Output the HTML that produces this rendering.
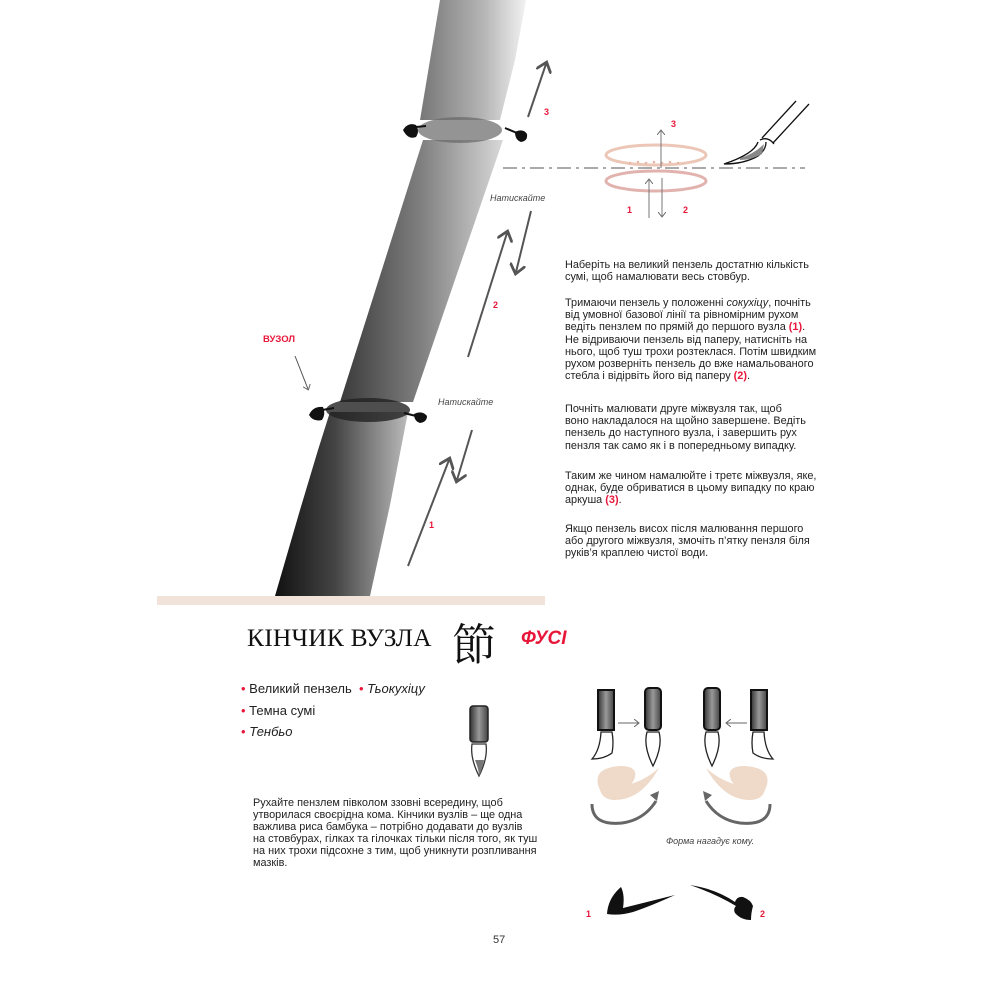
<!DOCTYPE html>
<html><head><meta charset="utf-8">
<style>
html,body{margin:0;padding:0;background:#fff;}
body{width:1000px;height:1000px;position:relative;overflow:hidden;font-family:"Liberation Sans","DejaVu Sans",sans-serif;color:#222;}
.t{position:absolute;font-size:10.9px;line-height:12.2px;white-space:nowrap;color:#222;}
.r{color:#e8173a;font-weight:bold;}
.lbl{position:absolute;font-size:9px;font-style:italic;color:#444;}
.num{position:absolute;font-size:9px;font-weight:bold;color:#e8173a;}
svg{position:absolute;left:0;top:0;}
</style></head><body>
<svg width="1000" height="1000" viewBox="0 0 1000 1000">
<defs>
<linearGradient id="g1" x1="0" y1="0" x2="1" y2="0">
<stop offset="0" stop-color="#111"/><stop offset="0.45" stop-color="#444"/><stop offset="1" stop-color="#bbb"/>
</linearGradient>
<linearGradient id="g2" x1="0" y1="0" x2="1" y2="0">
<stop offset="0" stop-color="#3a3a3a"/><stop offset="0.5" stop-color="#808080"/><stop offset="1" stop-color="#d8d8d8"/>
</linearGradient>
<linearGradient id="g3" x1="0" y1="0" x2="1" y2="0">
<stop offset="0" stop-color="#777"/><stop offset="0.6" stop-color="#b5b5b5"/><stop offset="1" stop-color="#f2f2f2"/>
</linearGradient>
<linearGradient id="bh" x1="0" y1="0" x2="1" y2="0">
<stop offset="0" stop-color="#333"/><stop offset="0.5" stop-color="#999"/><stop offset="1" stop-color="#444"/>
</linearGradient>
<marker id="ah" markerWidth="8" markerHeight="8" refX="4" refY="4" orient="auto"><path d="M0,0 L5,4 L0,8" fill="none" stroke="#555" stroke-width="1.4"/></marker>
<marker id="ah2" markerWidth="8" markerHeight="8" refX="4" refY="4" orient="auto"><path d="M0,0 L5,4 L0,8" fill="none" stroke="#666" stroke-width="1"/></marker>
</defs>
<rect x="157" y="596" width="388" height="9" fill="#f1e2da"/>
<!-- bamboo -->
<polygon points="275,596 370,596 390,505 408,412 330,412 318,450 300,510" fill="url(#g1)"/>
<polygon points="340,402 413,402 503,140 423,140" fill="url(#g2)"/>
<polygon points="440,0 526,0 515,60 500,120 420,120 430,60" fill="url(#g3)"/>
<ellipse cx="460" cy="130" rx="42" ry="13" fill="#666" opacity="0.7"/>
<ellipse cx="368" cy="410" rx="42" ry="12" fill="#222" opacity="0.8"/>
<path d="M403,130 q5,-8 13,-5 q4,6 0,12 q-8,3 -13,-7z" fill="#111"/>
<path d="M416,127 l10,-1" stroke="#111" stroke-width="2"/>
<path d="M505,128 l12,5" stroke="#111" stroke-width="2"/>
<path d="M515,132 q8,-4 12,2 q1,7 -6,8 q-6,-2 -6,-10z" fill="#111"/>
<path d="M309,415 q4,-9 14,-8 q3,7 -1,13 q-9,2 -13,-5z" fill="#111"/>
<path d="M322,410 l12,-2" stroke="#111" stroke-width="2"/>
<path d="M404,413 l12,3" stroke="#111" stroke-width="2"/>
<path d="M414,414 q8,-4 13,2 q0,6 -7,7 q-6,-2 -6,-9z" fill="#111"/>
<g stroke="#555" stroke-width="2" fill="none">
<line x1="408" y1="566" x2="449" y2="460" marker-end="url(#ah)"/>
<line x1="472" y1="430" x2="457" y2="480" marker-end="url(#ah)"/>
<line x1="468" y1="357" x2="507" y2="233" marker-end="url(#ah)"/>
<line x1="531" y1="211" x2="516" y2="272" marker-end="url(#ah)"/>
<line x1="528" y1="117" x2="546" y2="64" marker-end="url(#ah)"/>
</g>
<line x1="295" y1="356" x2="308" y2="389" stroke="#555" stroke-width="1" marker-end="url(#ah2)"/>
<line x1="503" y1="168" x2="805" y2="168" stroke="#777" stroke-width="1.3" stroke-dasharray="14,5,3,5"/>
<ellipse cx="656" cy="155" rx="50" ry="10" fill="none" stroke="#ecc7b7" stroke-width="3"/>
<ellipse cx="656" cy="181" rx="50" ry="10" fill="none" stroke="#e2b3ae" stroke-width="3"/>
<g fill="#e5b8a8"><circle cx="630" cy="163" r="1.3"/><circle cx="638" cy="162" r="1.3"/><circle cx="646" cy="163" r="1.3"/><circle cx="654" cy="162" r="1.3"/><circle cx="662" cy="163" r="1.3"/><circle cx="670" cy="162" r="1.3"/><circle cx="678" cy="163" r="1.3"/></g>
<g stroke="#777" stroke-width="1" fill="none">
<line x1="661" y1="168" x2="661" y2="131" marker-end="url(#ah2)"/>
<line x1="649" y1="218" x2="649" y2="180" marker-end="url(#ah2)"/>
<line x1="662" y1="178" x2="662" y2="216" marker-end="url(#ah2)"/>
</g>
<g stroke="#111" stroke-width="1.3" fill="none">
<line x1="762" y1="138" x2="796" y2="101"/>
<line x1="773" y1="143" x2="809" y2="104"/>
<path d="M760,140 q8,-4 14,4"/>
<path d="M758,142 q-4,12 -34,22 q20,0 34,-8 q8,-6 8,-14"/>
</g>
<path d="M740,158 q14,-4 24,-14 l-2,10 q-10,6 -22,6z" fill="#888"/>
<rect x="470" y="706" width="18" height="36" rx="3" fill="url(#bh)" stroke="#222" stroke-width="1.5"/>
<path d="M472,744 q-2,14 7,32 q9,-18 7,-32z" fill="#fff" stroke="#333" stroke-width="1.3"/>
<path d="M475,760 q4,10 4,16 q3,-6 5,-16z" fill="#777"/>
<g stroke="#111" stroke-width="2">
<rect x="598" y="690" width="16" height="40" fill="url(#bh)"/>
<rect x="645" y="688" width="16" height="42" rx="4" fill="url(#bh)"/>
<rect x="704" y="688" width="16" height="42" rx="4" fill="url(#bh)"/>
<rect x="751" y="690" width="16" height="40" fill="url(#bh)"/>
</g>
<g stroke="#222" stroke-width="1.3" fill="#fff">
<path d="M601,732 q-1,18 -9,27 q12,0 20,-6 q2,-10 0,-21z"/>
<path d="M647,732 q-4,14 6,34 q10,-20 6,-34z"/>
<path d="M706,732 q-4,14 6,34 q10,-20 6,-34z"/>
<path d="M764,732 q1,18 9,27 q-12,0 -20,-6 q-2,-10 0,-21z"/>
</g>
<g stroke="#666" stroke-width="1" fill="none">
<line x1="618" y1="723" x2="638" y2="723" marker-end="url(#ah2)"/>
<line x1="747" y1="723" x2="727" y2="723" marker-end="url(#ah2)"/>
</g>
<path d="M600,790 q-10,-22 20,-24 q20,0 14,14 q-4,8 -12,6 q20,-3 37,-18 q-18,32 -44,32 q-12,0 -15,-10z" fill="#efd9c8"/>
<path d="M765,790 q10,-22 -20,-24 q-20,0 -14,14 q4,8 12,6 q-20,-3 -37,-18 q18,32 44,32 q12,0 15,-10z" fill="#efd9c8"/>
<g stroke="#666" stroke-width="3" fill="none">
<path d="M592,804 q0,22 30,19 q22,-3 34,-22"/>
<path d="M770,804 q0,22 -30,19 q-22,-3 -34,-22"/>
</g>
<path d="M650,795 l9,-4 l-2,10z" fill="#666"/>
<path d="M712,795 l-9,-4 l2,10z" fill="#666"/>
<path d="M607,914 q1,-16 14,-27 q4,8 2,21 q20,-5 52,-13 q-24,11 -42,17 q-14,4 -26,2z" fill="#111"/>
<path d="M690,885 q26,4 45,17 q2,-6 8,-5 q8,3 10,9 q-2,7 -2,14 q-10,0 -16,-7 q-2,-4 1,-7 q-20,-12 -46,-21z" fill="#111"/>
</svg>

<div class="num" style="left:544px;top:107px;">3</div>
<div class="lbl" style="left:490px;top:193px;">Натискайте</div>
<div class="num" style="left:493px;top:300px;">2</div>
<div class="num" style="left:263px;top:334px;font-size:9.5px;">ВУЗОЛ</div>
<div class="lbl" style="left:438px;top:397px;">Натискайте</div>
<div class="num" style="left:429px;top:520px;">1</div>
<div class="num" style="left:671px;top:119px;">3</div>
<div class="num" style="left:627px;top:205px;">1</div>
<div class="num" style="left:683px;top:205px;">2</div>

<div class="t" style="left:565px;top:259px;">Наберіть на великий пензель достатню кількість<br>сумі, щоб намалювати весь стовбур.</div>
<div class="t" style="left:565px;top:297px;">Тримаючи пензель у положенні <i>сокухіцу</i>, почніть<br>від умовної базової лінії та рівномірним рухом<br>ведіть пензлем по прямій до першого вузла <span class="r">(1)</span>.<br>Не відриваючи пензель від паперу, натисніть на<br>нього, щоб туш трохи розтеклася. Потім швидким<br>рухом розверніть пензель до вже намальованого<br>стебла і відірвіть його від паперу <span class="r">(2)</span>.</div>
<div class="t" style="left:565px;top:403px;">Почніть малювати друге міжвузля так, щоб<br>воно накладалося на щойно завершене. Ведіть<br>пензель до наступного вузла, і завершить рух<br>пензля так само як і в попередньому випадку.</div>
<div class="t" style="left:565px;top:470px;">Таким же чином намалюйте і третє міжвузля, яке,<br>однак, буде обриватися в цьому випадку по краю<br>аркуша <span class="r">(3)</span>.</div>
<div class="t" style="left:565px;top:523px;">Якщо пензель висох після малювання першого<br>або другого міжвузля, змочіть п’ятку пензля біля<br>руків’я краплею чистої води.</div>

<div style="position:absolute;left:247px;top:623px;font-family:'Liberation Serif',serif;font-size:25.5px;letter-spacing:0.2px;color:#111;">КІНЧИК ВУЗЛА</div>
<div style="position:absolute;left:452px;top:614px;font-family:'Noto Serif CJK SC','Noto Sans CJK JP',serif;font-size:44px;line-height:54px;color:#111;">節</div>
<div style="position:absolute;left:521px;top:628px;font-size:19px;font-style:italic;font-weight:bold;color:#e8173a;">ФУСІ</div>

<div style="position:absolute;left:241px;top:678px;font-size:13px;line-height:21.5px;color:#222;">
<span style="color:#e8173a">•</span> Великий пензель &nbsp;<span style="color:#e8173a">•</span> <i>Тьокухіцу</i><br>
<span style="color:#e8173a">•</span> Темна сумі<br>
<span style="color:#e8173a">•</span> <i>Тенбьо</i></div>

<div class="t" style="left:253px;top:797px;line-height:12px;">Рухайте пензлем півколом ззовні всередину, щоб<br>утворилася своєрідна кома. Кінчики вузлів – ще одна<br>важлива риса бамбука – потрібно додавати до вузлів<br>на стовбурах, гілках та гілочках тільки після того, як туш<br>на них трохи підсохне з тим, щоб уникнути розпливання<br>мазків.</div>

<div class="lbl" style="left:666px;top:836px;">Форма нагадує кому.</div>
<div class="num" style="left:586px;top:909px;">1</div>
<div class="num" style="left:760px;top:909px;">2</div>
<div style="position:absolute;left:493px;top:934px;font-size:11px;color:#333;">57</div>
</body></html>
